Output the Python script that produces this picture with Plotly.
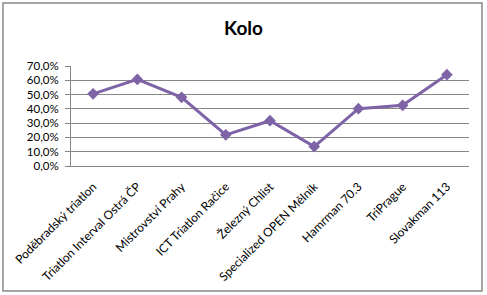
import plotly.graph_objects as go

categories = ["Poděbradský triatlon", "Triatlon Interval Ostrá ČP", "Mistrovství Prahy",
              "ICT Triatlon Račice", "Železný Chlist", "Specialized OPEN Mělník",
              "Hamrman 70.3", "TriPrague", "Slovakman 113"]
values = [0.505, 0.606, 0.481, 0.218, 0.317, 0.136, 0.401, 0.425, 0.639]
y_ticks = [0, 0.1, 0.2, 0.3, 0.4, 0.5, 0.6, 0.7]

W, H = 487, 295
L, R, T, B = 71, 18, 66, 129
pw, ph = W - L - R, H - T - B

def px(x):
    return (x - L) / pw

def py(y):
    return (H - B - y) / ph

fig = go.Figure()
fig.add_trace(go.Scatter(
    x=categories, y=values, mode="lines+markers",
    line=dict(color="#7E63A6", width=3),
    marker=dict(symbol="diamond", size=9, color="#7E63A6"),
    hoverinfo="skip", showlegend=False,
))

fig.update_layout(
    width=W, height=H,
    margin=dict(l=L, r=R, t=T, b=B),
    paper_bgcolor="white", plot_bgcolor="white",
    separators=", ",
    font=dict(family="Lato, Open Sans, sans-serif", size=11, color="#000000"),
    title=dict(text="<b>Kolo</b>", x=0.5, xanchor="center", y=1 - 28 / H, yanchor="middle",
               font=dict(size=19, color="#000000")),
    xaxis=dict(type="category", tickangle=-45, showgrid=False, showline=True,
               linecolor="#868686", linewidth=1, ticks="", ticklabelstandoff=8,
               range=[-0.5, 8.5], tickfont=dict(size=12)),
    yaxis=dict(range=[0, 0.7], tickvals=y_ticks, tickformat=".1%", showgrid=True,
               gridcolor="#868686", gridwidth=1, showline=True, linecolor="#868686",
               ticks="outside", ticklen=5, tickcolor="#868686", zeroline=False,
               ticklabelstandoff=4, tickfont=dict(size=11.5)),
    shapes=[dict(type="rect", xref="paper", yref="paper",
                 x0=px(3), x1=px(482), y0=py(291), y1=py(3),
                 line=dict(color="#888888", width=1.5), fillcolor="rgba(0,0,0,0)",
                 layer="below")],
)

fig.write_html("out.html")
